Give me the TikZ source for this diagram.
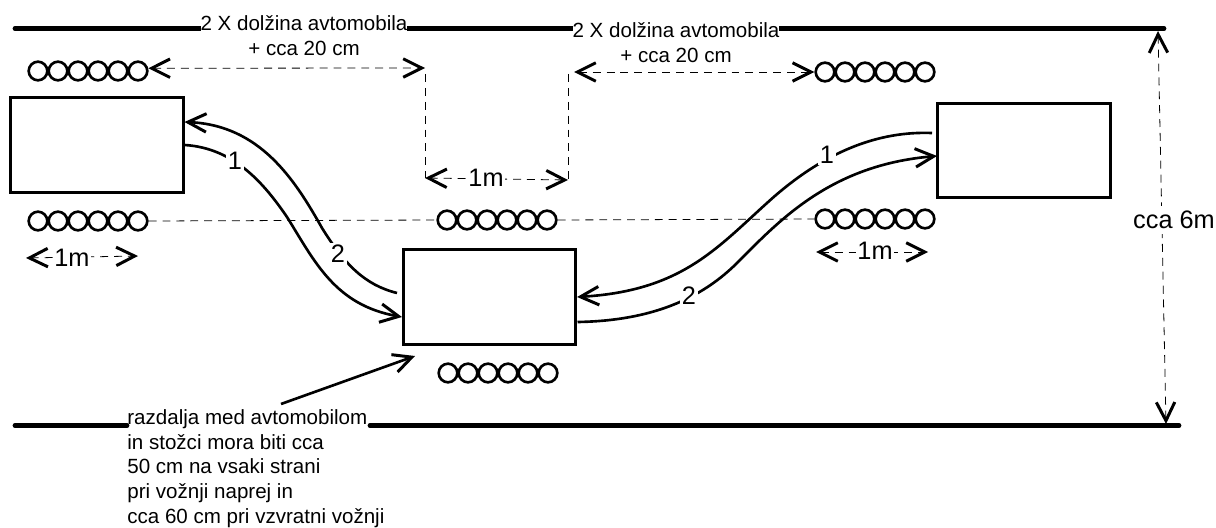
\documentclass[tikz,border=0pt]{standalone}
\usepackage{fontspec}
\setmainfont{Liberation Sans}
\usepackage{tikz}
\usetikzlibrary{arrows.meta, positioning, calc}

\tikzset{
  barb/.tip={Straight Barb[length=10.5pt, width=10.5pt, line width=1.7pt]},
  road/.style={line width=2.7pt, line cap=round},
  carbox/.style={draw, line width=1.7pt, minimum width=98pt, minimum height=54pt, inner sep=0pt},
  cone/.style={circle, draw, line width=1.5pt, minimum size=10.6pt, inner sep=0pt},
  measure/.style={line width=0.45pt, dash pattern=on 4.5pt off 3.4pt, barb-barb},
  guide/.style={line width=0.45pt, dash pattern=on 4.5pt off 3.4pt},
  track/.style={line width=1.5pt},
  trackarrow/.style={track, -barb},
  smalltext/.style={font=\fontsize{11.7}{14.1}\selectfont, inner sep=0pt},
  bigtext/.style={font=\fontsize{14.4}{16}\selectfont, fill=white, inner sep=1pt},
}

\newcommand{\conerow}[3]{
  \foreach \i in {1,...,6} {
    \node[cone] (#1\i) at ({#2+20*(\i-1)}, #3) {};
  }
}

\begin{document}
\begin{tikzpicture}[x=0.02cm, y=-0.02cm]
  \useasboundingbox (0,0) rectangle (1216,527);

  % Road edges
  \coordinate (topleft) at (15,28.5);
  \coordinate (topright) at (1164,28.5);
  \coordinate (botleft) at (15,425.5);
  \coordinate (botgapl) at (127,425.5);
  \coordinate (botgapr) at (370,425.5);
  \coordinate (botright) at (1179,425.5);
  \draw[road] (topleft) -- (topright);
  \draw[road] (botleft) -- (botgapl);
  \draw[road] (botgapr) -- (botright);

  % Texts on the road edges
  \node[smalltext, fill=white, align=center] (gapa) at (304,36) {2 X dolžina avtomobila\\+ cca 20 cm};
  \node[smalltext, fill=white, align=center] (gapb) at (676,43) {2 X dolžina avtomobila\\+ cca 20 cm};
  \node[smalltext, align=left, anchor=north west] (note) at (127,409) {razdalja med avtomobilom\\in stožci mora biti cca\\50 cm na vsaki strani\\pri vožnji naprej in\\cca 60 cm pri vzvratni vožnji};

  % Cars
  \node[carbox] (carleft) at (97,145) {};
  \node[carbox] (carmid) at (489.5,297) {};
  \node[carbox] (carright) at (1024,150.5) {};

  % Cones
  \conerow{conea}{38}{71}
  \conerow{coneb}{38}{221}
  \conerow{conec}{447}{220}
  \conerow{coned}{448}{373}
  \conerow{conee}{825}{72}
  \conerow{conef}{825}{219}

  % Corner points of the gap
  \coordinate (gapal) at (425,68);
  \coordinate (gapat) at (425,74);
  \coordinate (gapbl) at (425,178);
  \coordinate (gapbr) at (568,180);
  \coordinate (gapct) at (568,74);
  \coordinate (gapcl) at (574,72);
  \coordinate (oneal) at (26,258);
  \coordinate (onear) at (138,256);
  \coordinate (onebl) at (816,252);
  \coordinate (onebr) at (928,252);
  \coordinate (widtht) at (1158,31);
  \coordinate (widthb) at (1166,424);

  % Measures
  \draw[measure] (conea6.15) -- (gapal);
  \draw[measure] (gapcl) -- (conee1.west);
  \draw[guide] (gapat) -- (gapbl);
  \draw[guide] (gapct) -- (gapbr);
  \draw[measure] (gapbl) -- (gapbr);
  \draw[guide] (coneb6.east) -- (conec1.west);
  \draw[guide] (conec6.east) -- (conef1.west);
  \draw[measure] (oneal) -- (onear);
  \draw[measure] (onebl) -- (onebr);
  \draw[measure] (widtht) -- (widthb);

  \node[bigtext] (onea) at (72,258) {1m};
  \node[bigtext] (oneb) at (486,178) {1m};
  \node[bigtext] (onec) at (875,251) {1m};
  \node[bigtext, inner sep=3pt] (width) at (1174,220) {cca 6m};

  % Tracks on the left
  \coordinate (leftin) at (184.5,122);
  \coordinate (midout) at (397,293);
  \coordinate (midin) at (402,317);
  \draw[trackarrow] (carleft.east) .. controls (235,148) and (265,185) .. (287,217) .. controls (315,262) and (335,305) .. (midin);
  \draw[trackarrow] (midout) .. controls (365,285) and (345,265) .. (322,228) .. controls (295,180) and (260,125) .. (leftin);
  \node[bigtext] (labela) at (235,161) {1};
  \node[bigtext] (labelb) at (338,254) {2};

  % Tracks on the right
  \coordinate (rightout) at (932,133);
  \coordinate (rightin) at (937,156);
  \coordinate (midlow) at (577.5,322);
  \draw[trackarrow] (rightout) .. controls (880,131) and (825,150) .. (767,203) .. controls (715,250) and (680,291) .. (carmid.east);
  \draw[trackarrow] (midlow) .. controls (640,321) and (695,305) .. (737,263) .. controls (779,221) and (830,165) .. (rightin);
  \node[bigtext] (labelc) at (827,155) {1};
  \node[bigtext] (labeld) at (689,296) {2};

  % Pointer to the car
  \coordinate (pointer) at (281,404);
  \draw[track, -barb] (pointer) -- (415,356);
\end{tikzpicture}
\end{document}
